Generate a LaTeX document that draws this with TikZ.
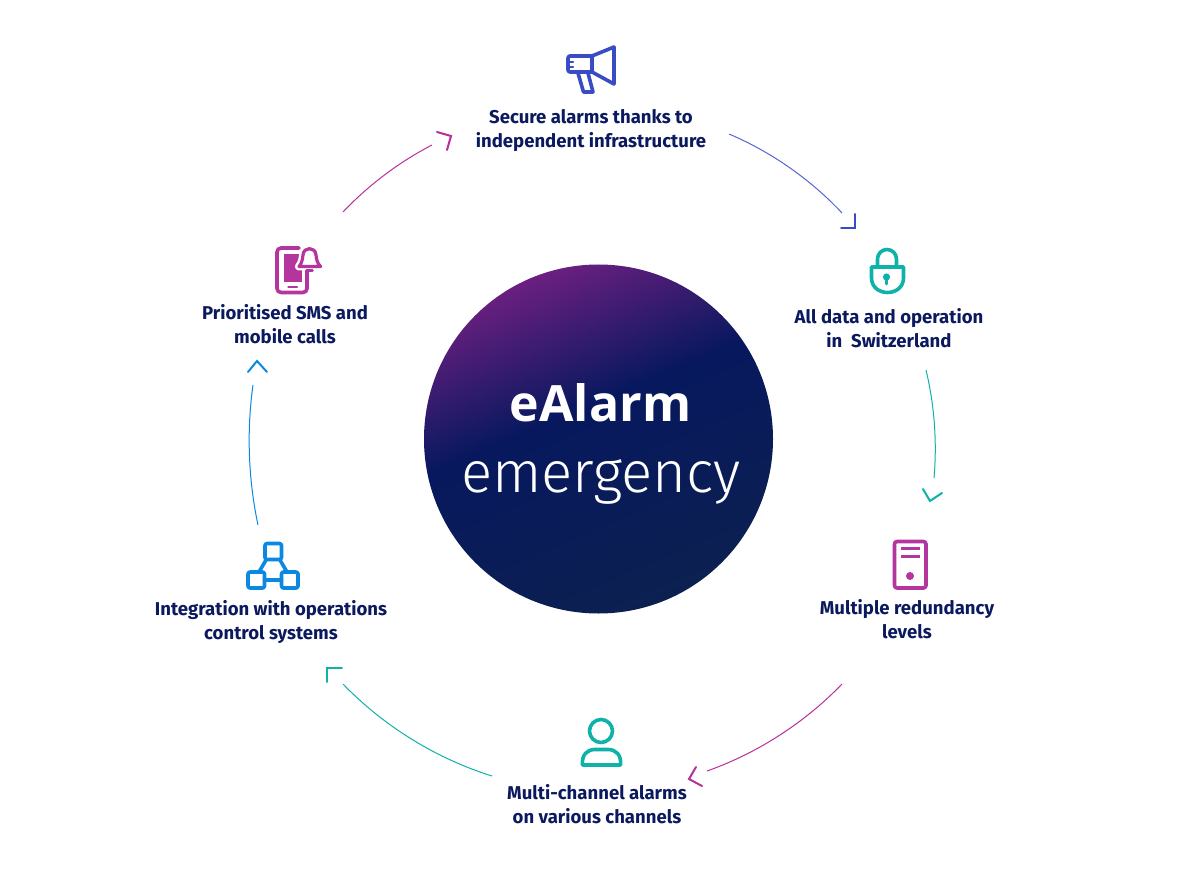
\documentclass[tikz,border=0pt]{standalone}
\usepackage{fontspec}
\setmainfont{Fira Sans}
\newfontfamily\lightfont{Fira Sans Light}
\newfontfamily\titlefont{Open Sans}
\definecolor{navy}{HTML}{0B1A5E}
\definecolor{iblue}{HTML}{3A4CC4}
\definecolor{iteal}{HTML}{0FB2A8}
\definecolor{imag}{HTML}{B5359F}
\definecolor{isky}{HTML}{0A88E2}
\definecolor{amag}{HTML}{B8319A}
\definecolor{orbA}{HTML}{0C2050}
\definecolor{orbB}{HTML}{07185E}
\definecolor{orbD}{HTML}{6A1F80}
\pgfdeclareverticalshading{orbshade}{100bp}{
  color(0bp)=(orbA);
  color(25bp)=(orbA);
  color(55bp)=(orbB);
  color(75bp)=(orbD);
  color(100bp)=(orbD)}
\tikzset{
  lbl/.style={text=navy,align=center,font=\fontsize{18.55}{23.5}\selectfont\bfseries,inner sep=0pt},
  arcline/.style={line width=1pt,looseness=0.85},
  barb/.style={line width=2pt,line cap=round,line join=miter},
  icon/.style={line width=3.6pt,line join=round,line cap=round},
}
\begin{document}
\begin{tikzpicture}[x=1pt,y=-1pt]
\useasboundingbox[fill=white] (0,0) rectangle (1200,869);
% central disc
\node[circle,minimum size=349pt,inner sep=0pt,shading=orbshade,shading angle=23] (orb) at (598.5,439) {};
\node[text=white,inner sep=0pt,anchor=base,font=\fontsize{50}{54}\selectfont\titlefont\bfseries] (t1) at (600.5,421) {eAlarm};
\node[text=white,inner sep=0pt,anchor=base,font=\fontsize{58}{62}\selectfont\lightfont] (t2) at (601,492) {emergency};
% labels
\node[lbl] (secure) at (591,130.5) {Secure alarms thanks to\\independent infrastructure};
\node[lbl] (data) at (889,328) {All data and operation\\in\ \ Switzerland};
\node[lbl] (redund) at (907,619) {Multiple redundancy\\levels};
\node[lbl] (multi) at (597,804) {Multi-channel alarms\\on various channels};
\node[lbl] (integ) at (271,622) {Integration with operations\\control systems};
\node[lbl] (sms) at (285,324) {Prioritised SMS and\\mobile calls};
% connector ends
\coordinate (a1s) at (729,134); \coordinate (a1e) at (842,213);
\coordinate (a2s) at (926,370); \coordinate (a2e) at (934,478);
\coordinate (a3s) at (842,684); \coordinate (a3e) at (707,771);
\coordinate (a4s) at (492,776); \coordinate (a4e) at (343,684);
\coordinate (a5s) at (258,525); \coordinate (a5e) at (253,385);
\coordinate (a6s) at (343,212); \coordinate (a6e) at (432,145);
\draw[arcline,iblue!85] (a1s) to[bend left=12] (a1e);
\draw[arcline,iteal] (a2s) to[bend left=9.3] (a2e);
\draw[arcline,amag] (a3s) to[bend left=13.4] (a3e);
\draw[arcline,iteal] (a4s) to[bend left=14.4] (a4e);
\draw[arcline,isky] (a5s) to[bend left=10] (a5e);
\draw[arcline,amag] (a6s) to[bend left=9.6] (a6e);
% arrow barbs
\draw[barb,iblue] (841,228) -- (855,228) -- (855,214);
\draw[barb,iteal] (923,489) -- (930,501) -- (942,493);
\draw[barb,amag] (696,767) -- (689,779) -- (702,786);
\draw[barb,iteal] (342,668) -- (327,668) -- (327,682);
\draw[barb,isky] (248,372) -- (257,361) -- (267,372);
\draw[barb,amag] (437,132) -- (451,136) -- (447,150);
% megaphone
\begin{scope}[icon,iblue]
\draw[rounded corners=2pt] (592,56) -- (568,56) -- (568,72) -- (592,72);
\draw (592,56) -- (614,47) -- (614,84) -- (592,72) -- cycle;
\draw[line width=2.6pt] (568,62) -- (573,62);
\draw[line width=2.6pt] (568,67) -- (573,67);
\draw (578,73) -- (583.5,92) -- (593,92) -- (588,73);
\end{scope}
% phone with bell
\begin{scope}[icon,imag]
\draw[rounded corners=4pt] (299,248) -- (277,248) -- (277,292.5) -- (307,292.5) -- (307,270);
\fill (284,254) rectangle (302,282.5);
\draw[line width=2.8pt] (288.5,287) -- (297,287);
\draw[white,fill=white,line width=8pt] (299,266.5) .. controls (302,263) and (302.5,259) .. (303,255) .. controls (303.5,246.5) and (315.5,246.5) .. (316,255) .. controls (316.5,259) and (317,263) .. (320.5,266.5) -- cycle;
\draw[line width=3.2pt] (299,266.5) .. controls (302,263) and (302.5,259) .. (303,255) .. controls (303.5,246.5) and (315.5,246.5) .. (316,255) .. controls (316.5,259) and (317,263) .. (320.5,266.5) -- cycle;
\draw[line width=2.6pt] (306.5,270.5) -- (312.5,270.5);
\end{scope}
% network
\begin{scope}[icon,isky]
\draw[rounded corners=2pt] (265,543.5) rectangle (281.5,559.5);
\draw[rounded corners=2pt] (248,572) rectangle (264.5,588);
\draw[rounded corners=2pt] (281.5,572) rectangle (298,588);
\draw (266,560) -- (259,572);
\draw (280,560) -- (287,572);
\draw (264.5,580) -- (281.5,580);
\end{scope}
% lock
\begin{scope}[icon,iteal]
\draw (877.5,266) -- (877.5,259) arc[start angle=180,end angle=360,radius=9.5] -- (896.5,266);
\draw (871.5,267) -- (903.5,267) -- (903.5,278) .. controls (903.5,287) and (896,292.5) .. (887.5,292.5) .. controls (879,292.5) and (871.5,287) .. (871.5,278) -- cycle;
\fill (886.5,277) circle[radius=3.6];
\draw[line width=3pt] (886.5,278) -- (886.5,284);
\end{scope}
% server
\begin{scope}[icon,imag]
\draw[rounded corners=2.5pt] (894.5,541.5) rectangle (926,588);
\draw[line width=3pt,line cap=butt] (901,548.5) -- (919.5,548.5);
\draw[line width=3pt,line cap=butt] (901,556.5) -- (919.5,556.5);
\fill (910,576) circle[radius=4];
\end{scope}
% person
\begin{scope}[icon,iteal]
\draw (601,731) circle[radius=11.5];
\draw (582.5,765) .. controls (581.5,755) and (587,749.5) .. (595,749.5) -- (608,749.5) .. controls (616,749.5) and (621.5,755) .. (620.5,765) -- cycle;
\end{scope}
\end{tikzpicture}
\end{document}
